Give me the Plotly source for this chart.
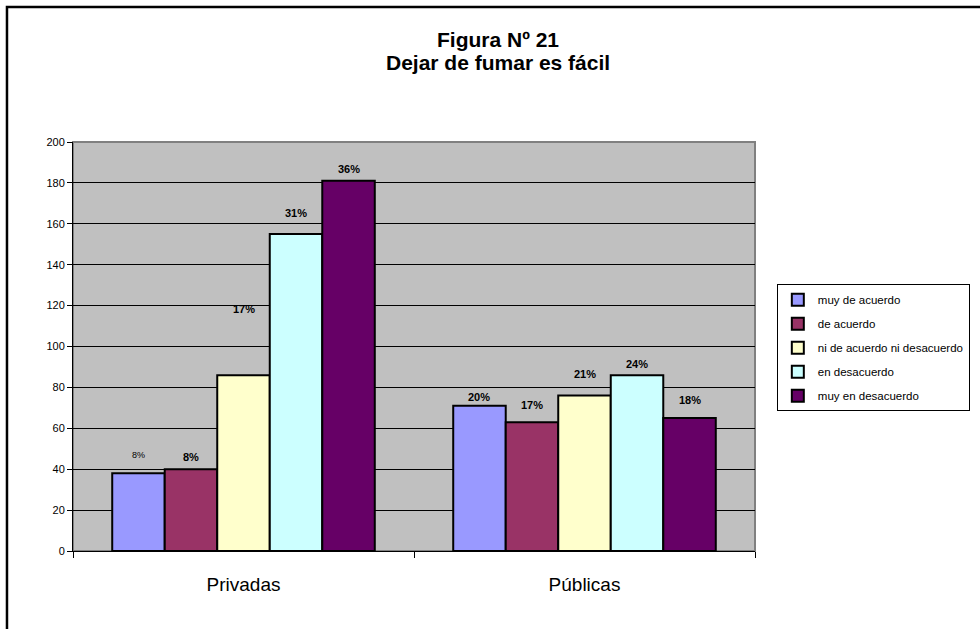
import plotly.graph_objects as go

categorias = ["Privadas", "Públicas"]
series = ["muy de acuerdo", "de acuerdo", "ni de acuerdo ni desacuerdo",
          "en desacuerdo", "muy en desacuerdo"]
valores = [
    [38, 71],
    [40, 63],
    [86, 76],
    [155, 86],
    [181, 65],
]
porcentajes = [
    ["8%", "20%"],
    ["8%", "17%"],
    ["17%", "21%"],
    ["31%", "24%"],
    ["36%", "18%"],
]
colores = ["#9999FF", "#993366", "#FFFFCC", "#CCFFFF", "#660066"]

# separación (px) de cada etiqueta sobre su barra, como en el original
separacion = [
    [18, 9],
    [12, 17],
    [66, 22],
    [21, 11],
    [12, 18],
]

fig = go.Figure()
for i, nombre in enumerate(series):
    fig.add_trace(go.Bar(
        name=nombre,
        x=categorias,
        y=valores[i],
        marker=dict(color=colores[i], line=dict(color="black", width=2)),
        legendgroup=nombre,
    ))

ancho_area = 980 - 73 - 225
ancho_cat = ancho_area / len(categorias)
ancho_barra = ancho_cat * (1 - 0.23) / len(series)
for i in range(len(series)):
    for j, cat in enumerate(categorias):
        txt = "<b>" + porcentajes[i][j] + "</b>"
        size = 11
        if i == 0 and j == 0:
            txt = porcentajes[i][j]
            size = 9
        fig.add_annotation(
            x=cat, y=valores[i][j], xref="x", yref="y",
            text=txt, showarrow=False,
            xshift=(i - (len(series) - 1) / 2) * ancho_barra,
            yshift=separacion[i][j],
            yanchor="middle",
            font=dict(size=size, color="black"),
        )

# título en dos líneas (interlineado más estrecho que el de plotly)
for texto, y in [("<b>Figura Nº 21</b>", 1.2494), ("<b>Dejar de fumar es fácil</b>", 1.1932)]:
    fig.add_annotation(
        x=0.6232, y=y, xref="paper", yref="paper",
        text=texto, showarrow=False,
        xanchor="center", yanchor="middle",
        font=dict(size=21, color="black"),
    )

fig.update_layout(
    width=980,
    height=629,
    barmode="group",
    bargap=0.23,
    bargroupgap=0,
    paper_bgcolor="white",
    plot_bgcolor="#C0C0C0",
    font=dict(family="Liberation Sans, Arial, sans-serif", color="black", size=12),
    margin=dict(l=73, r=225, t=142, b=78, autoexpand=False),
    legend=dict(
        x=1.032, xanchor="left",
        y=0.652, yanchor="top",
        bordercolor="black", borderwidth=1,
        font=dict(size=11.5),
        tracegroupgap=5,
        itemwidth=30,
    ),
    showlegend=True,
)

fig.update_xaxes(
    showline=True, linecolor="black", linewidth=1,
    ticks="outside", tickson="boundaries", ticklen=6, tickcolor="black",
    tickfont=dict(size=19), ticklabelstandoff=16,
    showgrid=False, automargin=False,
)
fig.update_yaxes(
    range=[0, 200], dtick=20,
    showline=True, linecolor="black", linewidth=1,
    ticks="outside", ticklen=5, tickcolor="black",
    showgrid=True, gridcolor="black", gridwidth=1,
    tickfont=dict(size=11),
    zeroline=False, automargin=False,
)

# contorno gris del área de trazado
fig.add_shape(type="rect", xref="paper", yref="paper", x0=0, x1=1, y0=0, y1=1,
              line=dict(color="#808080", width=2), layer="below")
# marco exterior del gráfico
fig.add_shape(type="rect", xref="paper", yref="paper",
              x0=-0.0968, x1=1.35, y0=-0.25, y1=1.330,
              line=dict(color="black", width=2.5), layer="above")

fig.write_html("out.html", config={"displayModeBar": False},
               post_script="document.body.style.margin='0';")
